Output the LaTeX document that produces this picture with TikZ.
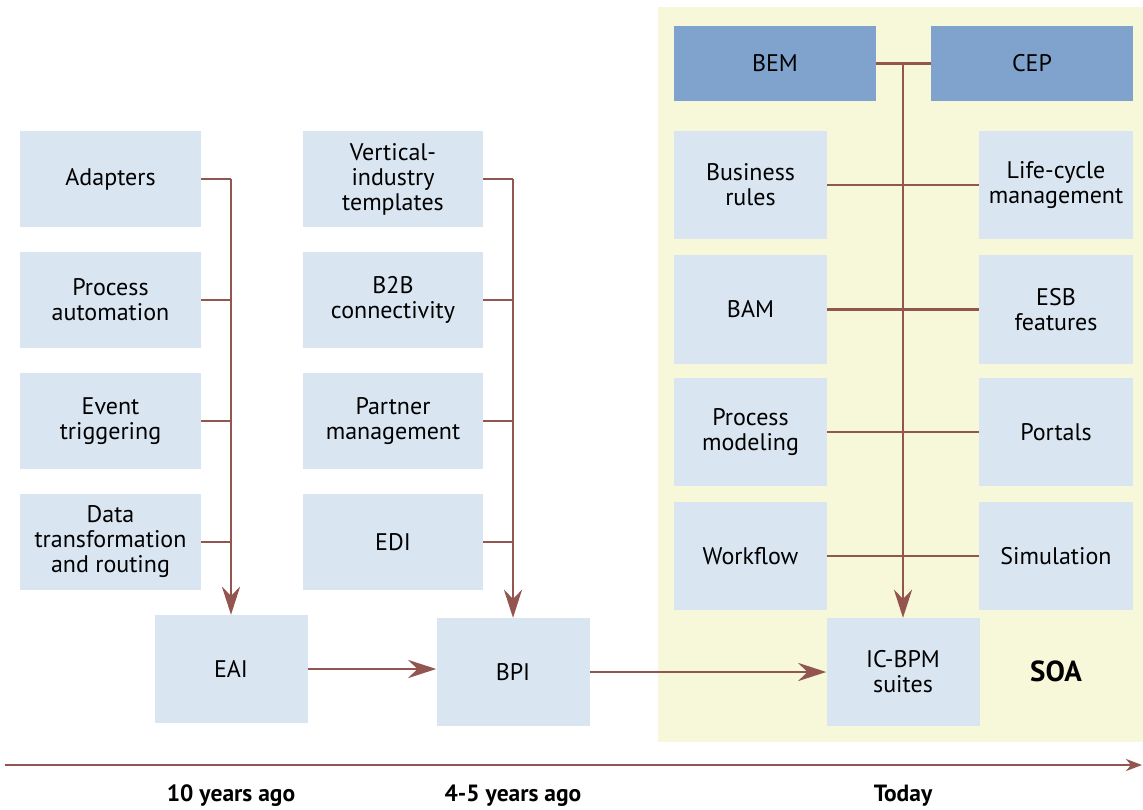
\documentclass[tikz,border=0pt]{standalone}
\usepackage{fontspec}
\setmainfont{PT Sans}
\usetikzlibrary{arrows.meta}
\definecolor{lightbox}{HTML}{D9E5F1}
\definecolor{darkbox}{HTML}{7FA3CC}
\definecolor{soabg}{HTML}{F7F7DA}
\definecolor{conn}{HTML}{935550}
\tikzset{
  box/.style={fill=lightbox, inner sep=0pt, align=center, minimum width=#1, font=\fontsize{24}{25}\selectfont},
  box/.default=181pt,
  hbox/.style={minimum height=96pt},
  tbox/.style={minimum height=108pt},
  dbox/.style={fill=darkbox, inner sep=0pt, align=center, minimum width=202pt, minimum height=75pt, font=\fontsize{24}{25}\selectfont},
  line/.style={draw=conn, line width=2.8pt},
  arr/.style={line, -{Stealth[length=28pt, width=18pt, inset=9pt]}},
  tarr/.style={line, -{Stealth[length=16pt, width=12pt, inset=5pt]}},
  tlabel/.style={font=\bfseries\fontsize{23.5}{26}\selectfont, inner sep=0pt},
}
\begin{document}
\begin{tikzpicture}[x=1pt,y=-1pt]
\useasboundingbox (0,0) rectangle (1143,810);
\fill[soabg] (658,7) rectangle (1143,742);

% column 1
\node[box, hbox] (a1) at (110.5,179) {Adapters};
\node[box, hbox] (a2) at (110.5,300) {Process\\automation};
\node[box, hbox] (a3) at (110.5,421) {Event\\triggering};
\node[box, hbox] (a4) at (110.5,542) {Data\\transformation\\and routing};
% column 2
\node[box=180pt, hbox] (b1) at (393,179) {Vertical-\\industry\\templates};
\node[box=180pt, hbox] (b2) at (393,300) {B2B\\connectivity};
\node[box=180pt, hbox] (b3) at (393,421) {Partner\\management};
\node[box=180pt, hbox] (b4) at (393,542) {EDI};
% main stages
\node[box=153pt, tbox] (eai) at (231,669) {EAI};
\node[box=153pt, tbox] (bpi) at (513,672) {BPI};
\node[box=153pt, tbox] (ic) at (903,672) {IC-BPM\\suites};
% SOA area
\node[dbox] (bem) at (775,63.5) {BEM};
\node[dbox] (cep) at (1032,63.5) {CEP};
\node[box=153pt, tbox] (r1) at (750.5,185) {Business\\rules};
\node[box=153pt, tbox] (r2) at (750.5,309.5) {BAM};
\node[box=153pt, tbox] (r3) at (750.5,432) {Process\\modeling};
\node[box=153pt, tbox] (r4) at (750.5,556) {Workflow};
\node[box=154pt, tbox] (s1) at (1056,185) {Life-cycle\\management};
\node[box=154pt, tbox] (s2) at (1056,309.5) {ESB\\features};
\node[box=154pt, tbox] (s3) at (1056,432) {Portals};
\node[box=154pt, tbox] (s4) at (1056,556) {Simulation};
\node[font=\bfseries\fontsize{29}{32}\selectfont, inner sep=0pt] (soa) at (1056,671) {SOA};

% column 1 connectors
\coordinate (j1) at (231,179);
\foreach \n in {a1,a2,a3,a4} { \draw[line] (\n.east) -- (\n.east -| j1); }
\draw[arr] (j1) -- (eai.north);
% column 2 connectors
\coordinate (k1) at (513,179);
\foreach \n in {b1,b2,b3,b4} { \draw[line] (\n.east) -- (\n.east -| k1); }
\draw[arr] (k1) -- (bpi.north);
% SOA connectors
\draw[line] (bem.east) -- (cep.west);
\coordinate (m1) at (903,63.5);
\draw[arr] (m1) -- (ic.north);
\draw[line] (r1.east) -- (s1.west);
\draw[line] (r2.east) -- (s2.west);
\draw[line] (r3.east) -- (s3.west);
\draw[line] (r4.east) -- (s4.west);
% flow
\draw[arr] (eai.east) -- (eai.east -| bpi.west);
\draw[arr] (bpi.east) -- (bpi.east -| ic.west);

% timeline
\coordinate (t0) at (5,765);
\coordinate (t1) at (1142,765);
\draw[tarr] (t0) -- (t1);
\node[tlabel] (l1) at (231,796) {10 years ago};
\node[tlabel] (l2) at (513,796) {4-5 years ago};
\node[tlabel] (l3) at (903,796) {Today};
\end{tikzpicture}
\end{document}
